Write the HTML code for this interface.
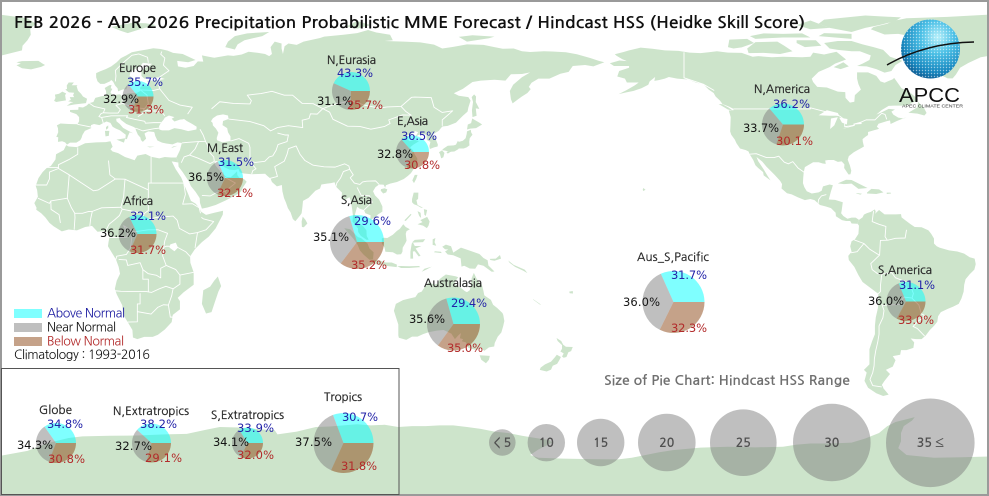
<!DOCTYPE html>
<html><head><meta charset="utf-8">
<style>html,body{margin:0;padding:0;background:#fff;}svg{display:block}</style>
</head><body>
<svg width="989" height="496" viewBox="0 0 989 496" xmlns="http://www.w3.org/2000/svg">
<defs>
<radialGradient id="sg" cx="0.62" cy="0.3" r="0.8">
<stop offset="0" stop-color="#b8f0fa"/><stop offset="0.35" stop-color="#4cc0e6"/><stop offset="0.75" stop-color="#1685bd"/><stop offset="1" stop-color="#0a4a80"/>
</radialGradient>
<pattern id="dots" width="3" height="3" patternUnits="userSpaceOnUse"><circle cx="1.5" cy="1.5" r="0.7" fill="#fff" opacity="0.55"/></pattern>
</defs>
<rect width="989" height="496" fill="#fff"/>
<g transform="translate(82.41,243.5) scale(2.747,-2.747)" fill="#cde4cb">
<polygon points="-5.9,35.8 -6.8,34.0 -9.6,32.5 -9.8,30.6 -11.5,28.2 -13.0,27.5 -14.5,26.0 -16.0,23.8 -17.0,21.0 -16.5,19.5 -16.2,17.0 -17.5,14.7 -16.7,13.0 -16.8,12.3 -15.0,11.0 -13.5,9.5 -12.0,7.5 -10.5,6.3 -7.5,4.4 -5.0,5.1 -2.0,4.8 1.0,6.0 3.5,6.4 5.5,4.3 7.0,4.4 8.5,4.6 9.7,3.5 9.8,2.0 9.5,0.5 9.3,-1.0 11.0,-3.8 12.2,-5.8 13.2,-8.5 13.7,-11.0 12.5,-13.5 11.8,-16.5 12.5,-18.5 14.5,-22.5 14.9,-26.0 16.5,-28.6 18.2,-31.5 18.4,-34.2 20.0,-34.8 22.5,-34.0 25.6,-34.0 27.5,-33.2 30.0,-31.3 32.5,-28.6 32.9,-26.0 35.5,-24.0 35.5,-21.0 34.7,-19.8 36.8,-17.8 40.5,-15.0 40.5,-10.5 39.3,-7.0 39.2,-4.7 41.0,-2.0 43.5,0.5 46.0,2.5 48.5,5.5 51.1,10.5 51.2,11.9 48.0,11.2 45.0,10.4 43.3,11.5 42.5,13.0 41.2,14.5 39.5,15.5 38.5,18.0 37.2,21.0 36.0,24.0 34.0,27.0 32.5,29.9 34.9,29.5 34.2,31.3 32.3,31.3 30.0,31.5 28.0,31.0 25.0,31.6 23.0,32.6 20.0,32.0 19.0,30.3 15.5,31.5 13.0,32.9 11.0,33.5 10.2,34.3 11.0,35.2 10.2,37.2 8.5,36.9 5.0,36.8 1.0,36.5 -2.0,35.1 -5.0,35.3"/>
<polygon points="49.3,-12.0 50.5,-15.5 49.5,-17.5 48.0,-22.0 47.0,-25.0 45.0,-25.5 43.5,-22.0 44.0,-17.0 46.5,-15.7 48.0,-13.5"/>
<polygon points="-5.6,36.0 -6.3,36.8 -7.4,37.2 -8.9,37.0 -8.8,38.7 -9.5,38.8 -8.8,40.5 -8.9,42.0 -9.3,43.0 -8.0,43.7 -5.0,43.5 -1.8,43.4 -1.2,44.5 -1.2,46.0 -2.2,47.1 -4.5,47.9 -4.5,48.6 -1.5,48.7 -1.4,49.7 0.2,49.5 1.5,50.2 2.5,51.1 4.0,51.5 4.7,53.0 7.0,53.6 8.7,53.9 8.6,55.5 8.1,56.6 9.8,57.6 10.6,57.7 10.3,56.5 10.9,56.3 10.2,55.0 11.0,54.0 13.5,54.3 14.5,53.9 16.5,54.6 18.5,54.8 19.9,54.9 21.1,55.5 21.0,56.8 22.0,57.6 24.0,57.2 24.3,58.3 23.5,59.2 28.0,59.5 30.0,59.9 28.0,60.5 25.0,60.2 22.5,60.0 21.5,61.0 21.5,62.5 22.0,63.4 24.5,64.8 25.4,65.4 22.0,65.8 21.0,64.5 19.0,63.5 17.5,62.5 17.2,61.0 18.8,60.0 18.5,59.2 16.5,57.5 16.0,56.2 14.5,56.0 13.0,55.4 12.8,56.5 11.9,57.5 11.2,58.9 10.5,59.5 10.0,59.0 8.0,58.1 6.5,58.1 5.5,59.0 5.0,60.5 5.0,62.0 6.5,62.7 8.5,63.5 10.5,64.5 12.5,66.0 14.0,67.5 16.0,68.5 18.0,69.6 20.5,70.1 23.5,70.6 25.8,71.1 28.5,70.8 31.0,70.2 33.0,69.4 36.5,69.0 41.2,66.8 38.5,66.0 34.5,66.5 34.8,64.5 37.5,64.0 40.5,64.6 42.0,66.3 44.0,66.2 43.5,68.5 46.0,68.0 48.0,67.6 53.0,68.5 55.0,68.3 58.0,68.8 60.5,69.8 64.0,69.4 66.5,69.0 68.0,68.2 69.0,69.0 68.5,71.5 70.0,73.5 72.5,72.8 72.5,71.0 73.0,69.0 73.6,71.8 75.0,72.8 78.0,72.3 80.5,73.5 86.5,74.8 88.0,75.3 95.0,76.0 100.0,76.6 104.0,77.7 107.0,76.8 112.0,76.0 113.0,74.0 110.0,73.7 117.0,73.5 123.0,73.2 128.0,72.4 131.0,71.0 135.0,71.6 140.0,72.5 146.0,72.3 150.0,71.5 153.0,70.9 157.0,71.0 160.0,70.0 163.0,69.7 168.0,70.0 171.0,69.9 176.0,69.6 180.0,68.9 185.0,67.5 188.0,66.5 190.0,66.0 186.0,64.5 183.0,65.0 178.5,64.6 177.0,62.5 174.0,61.8 170.0,60.0 166.0,60.0 163.5,58.5 162.5,57.0 163.2,56.2 162.0,54.8 160.0,53.5 158.6,52.5 156.6,51.0 156.0,52.5 155.6,55.5 156.8,57.8 160.0,60.5 163.0,62.3 160.0,61.7 156.0,61.6 154.0,59.3 150.0,59.6 145.0,59.3 142.0,58.8 138.5,56.3 135.2,54.7 137.0,53.8 140.5,53.3 141.3,52.0 140.5,49.5 140.2,48.0 138.5,46.5 136.0,44.0 133.0,42.8 131.0,42.6 129.7,41.0 128.0,40.0 127.5,39.5 128.5,38.3 129.4,36.0 129.3,35.3 128.0,35.0 126.5,34.4 126.3,35.5 126.7,37.0 125.4,37.7 125.2,39.5 124.3,39.9 122.3,39.5 121.2,38.8 121.8,39.8 122.2,40.5 121.2,40.9 119.5,39.8 118.0,39.2 117.7,38.5 118.8,37.5 119.2,37.2 120.8,37.8 122.5,37.2 120.5,36.0 119.3,35.0 120.3,34.0 120.9,32.6 121.9,31.0 121.9,29.9 121.5,28.5 120.5,27.0 119.6,25.6 118.5,24.6 117.0,23.5 114.5,22.4 112.0,21.8 110.5,21.2 110.2,20.3 109.7,21.4 108.0,21.5 106.7,20.5 105.8,19.0 106.5,17.5 108.0,16.0 109.2,13.5 109.2,11.6 107.5,10.5 106.7,9.6 104.8,8.6 104.9,10.3 103.0,11.0 102.5,12.2 100.9,12.7 100.0,13.4 99.2,10.5 99.9,9.2 100.4,7.2 101.5,6.8 102.3,6.2 103.4,4.8 103.5,2.7 104.2,1.4 103.5,1.3 101.3,2.8 100.4,4.2 100.3,5.5 98.3,8.0 98.5,10.0 98.2,12.5 97.7,15.5 97.2,16.9 95.4,15.8 94.3,16.3 94.5,18.5 93.2,19.8 92.3,20.7 91.8,22.3 90.5,22.0 89.0,21.8 87.0,21.5 86.5,20.0 84.8,19.2 82.3,16.6 80.3,15.5 80.1,13.4 79.8,11.0 79.3,10.3 78.2,8.9 77.5,8.1 76.6,8.9 75.8,11.3 74.8,12.9 74.1,14.9 73.4,16.5 72.8,19.0 72.6,21.3 70.8,20.8 69.0,22.4 68.5,23.6 67.3,24.6 66.5,25.4 64.0,25.3 61.6,25.2 58.8,25.5 57.3,25.9 56.8,27.1 55.5,26.7 53.5,26.9 51.5,27.9 50.1,29.9 48.8,30.0 48.0,29.9 48.4,28.5 49.6,27.0 50.2,26.3 50.8,24.8 51.2,26.1 51.6,25.0 52.5,24.2 54.0,24.1 55.5,25.5 56.3,26.3 56.4,24.9 57.2,23.9 58.8,23.5 59.8,22.5 58.5,20.5 57.8,19.0 56.6,18.0 55.2,17.3 52.2,15.7 48.5,14.0 45.5,13.1 43.5,12.7 42.8,14.8 42.7,16.5 41.2,18.8 39.5,20.9 38.8,22.5 37.5,24.5 36.5,26.0 35.0,28.0 34.9,29.5 34.2,31.3 34.9,32.7 35.5,34.0 35.9,35.5 36.2,36.6 34.6,36.8 32.8,36.1 30.5,36.4 29.0,36.7 27.3,37.5 26.5,39.2 26.3,40.1 26.1,40.6 24.0,40.8 23.0,40.3 22.6,40.0 23.2,38.2 22.0,37.0 21.3,37.7 21.1,38.6 20.2,39.6 19.4,41.4 19.4,42.0 18.5,42.5 16.0,43.5 14.0,45.0 13.6,45.7 12.3,45.4 12.4,44.5 13.6,43.5 14.8,42.1 16.2,41.3 18.5,40.1 17.2,40.5 16.6,39.2 16.2,38.0 15.6,38.0 15.8,39.6 14.8,40.3 13.7,41.2 12.2,41.8 11.0,42.5 10.2,43.9 8.8,44.4 7.5,43.8 6.2,43.1 4.2,43.5 3.1,43.1 3.2,42.0 0.9,41.0 0.0,39.5 -0.3,38.5 -0.8,37.6 -2.2,36.7 -4.5,36.7"/>
<polygon points="-5.7,50.1 -3.0,50.6 1.3,51.1 1.7,52.7 0.2,53.5 -0.5,54.5 -1.6,55.6 -2.1,57.2 -1.8,57.6 -3.9,57.6 -3.1,58.6 -5.0,58.6 -5.7,57.5 -5.6,56.3 -6.2,56.0 -4.9,55.0 -3.0,54.9 -3.4,54.0 -3.0,53.3 -4.6,53.3 -4.2,52.3 -5.2,51.8 -3.3,51.4 -4.2,51.2"/>
<polygon points="-6.0,52.1 -6.3,54.0 -5.9,54.6 -7.3,55.3 -8.5,54.5 -10.0,54.2 -9.8,53.0 -10.3,51.9 -9.5,51.5 -8.0,51.8"/>
<polygon points="-22.0,63.8 -24.0,64.9 -22.4,65.5 -24.0,66.0 -22.0,66.4 -16.0,66.5 -14.5,65.5 -13.6,65.0 -15.0,64.3 -18.7,63.4"/>
<polygon points="10.5,78.8 14.5,79.7 18,80.3 23,80.2 27,79.5 22,78.3 16.5,76.6 14.0,77.4"/>
<polygon points="52.0,71.5 53.0,73.5 55.5,75.5 60,76.5 68,77 65.5,75.5 59.0,74.0 56.5,72.5 55.5,70.6"/>
<polygon points="96,79 100,81 105,79.5 100,78.2"/>
<polygon points="137,75.2 142,75.8 150,75.3 148,74.7 140,73.5"/>
<polygon points="142.0,46.0 143.5,46.5 143.2,49.2 144.5,49.0 143.2,51.5 143.3,53.5 142.6,54.3 141.7,53.3 142.2,51.5 141.8,48.5"/>
<polygon points="130.9,34.0 132.0,33.8 134.0,33.4 135.4,33.5 136.8,34.3 137.0,34.6 138.8,34.6 139.9,35.0 140.9,35.7 140.8,37.0 141.0,38.3 141.5,39.0 142.0,39.6 141.5,40.5 141.4,41.4 140.0,40.8 139.9,39.9 139.5,38.3 138.5,37.4 137.0,37.0 136.7,37.4 136.0,36.0 135.2,35.7 133.0,35.6 131.5,34.6"/>
<polygon points="140.0,41.5 141.2,41.8 143.3,42.0 145.5,43.3 144.5,44.0 141.9,45.5 141.5,43.8 140.3,43.3"/>
<polygon points="129.8,33.2 130.9,33.9 131.8,33.0 131.4,31.4 130.6,31.0 130.2,32.5"/>
<polygon points="132.5,33.3 134.6,34.1 134.7,33.8 133.0,32.7"/>
<polygon points="120.1,23.0 120.7,22.0 121.5,23.5 122.0,25.0 121.0,25.0"/>
<polygon points="108.6,19.2 109.5,18.2 110.6,18.6 111.0,19.7 110.0,20.1 108.7,19.8"/>
<polygon points="120.0,16.2 120.6,18.5 122.3,18.5 122.2,16.2 121.6,15.8 122.0,14.0 124.0,13.0 123.3,13.0 121.8,13.9 120.7,14.3 120.0,15.0"/>
<polygon points="122.0,7.0 123.8,7.8 123.0,8.5 125.5,9.7 126.4,8.0 126.0,6.5 125.4,5.6 124.0,6.5"/>
<polygon points="124.3,12.5 125.5,12.2 125.0,10.0 124.5,10.5"/>
<polygon points="122.0,11.8 123.1,11.2 123.3,9.3 122.6,10.0"/>
<polygon points="117.2,8.4 119.5,10.8 119.8,10.5 117.7,8.2"/>
<polygon points="109.0,1.8 109.6,2.1 111.0,2.0 113.0,3.2 114.5,4.6 115.5,5.3 116.8,7.0 117.7,6.0 119.2,5.2 118.0,4.5 117.7,3.5 118.0,1.0 117.5,0.0 116.6,-1.5 116.5,-3.0 116.0,-3.9 114.5,-4.0 113.0,-3.2 110.3,-3.0 110.0,-1.5 109.0,0.0"/>
<polygon points="95.3,5.6 97.5,5.2 100.3,2.3 101.4,2.0 103.8,0.0 104.5,-1.8 106.0,-3.2 105.8,-5.8 104.5,-5.9 102.3,-4.0 101.0,-2.5 100.2,-0.5 98.6,1.8 97.2,3.3"/>
<polygon points="105.2,-6.8 106.0,-5.9 108.3,-6.2 110.4,-6.9 112.6,-6.9 114.5,-7.7 114.4,-8.6 111.0,-8.2 108.0,-7.8 106.5,-7.4"/>
<polygon points="114.6,-8.3 116,-8.2 119,-8.3 122.5,-8.2 123.0,-8.6 119,-8.9 116,-8.9"/>
<polygon points="123.5,-10.3 124.5,-9.2 127.2,-8.4 125,-9.6"/>
<polygon points="119.4,-5.5 120.4,-5.5 120.3,-2.9 121.0,-2.8 122.4,-4.7 123.1,-4.5 121.3,-1.8 123.4,-0.9 121.0,-0.9 120.2,0.6 121.0,1.3 124.8,1.6 124.0,0.5 120.0,0.3 119.8,-0.5 119.4,-3.0"/>
<polygon points="128,-3.2 130.8,-3.5 130.5,-3.0 128.3,-2.8"/>
<polygon points="127.5,1.5 128.5,2.0 128.2,0.5 128.8,-0.8 127.5,-0.5"/>
<polygon points="131.0,-1.2 132.3,-0.4 134.2,-1.0 135.0,-3.3 137.8,-1.5 141.0,-2.6 144.5,-3.8 146.0,-5.3 147.5,-6.1 147.8,-8.0 150.0,-10.2 149.0,-10.3 146.0,-8.1 144.0,-7.6 143.0,-9.2 141.0,-9.1 139.0,-8.1 138.0,-8.4 137.7,-5.4 135.0,-4.3 133.0,-4.0 132.0,-2.9 133.2,-2.2 132.0,-2.1"/>
<polygon points="148.3,-5.6 150.5,-5.5 152.0,-4.2 152.4,-5.5 150.0,-6.3 148.5,-6.0"/>
<polygon points="155,-6.2 157,-7.8 161,-9.5 162,-10.8 160.5,-9.9 157.5,-8.5 155.5,-7"/>
<polygon points="79.9,6.0 80.6,5.9 81.9,7.3 81.2,8.6 80.2,9.8 79.8,8.0"/>
<polygon points="12.4,37.8 15.6,38.3 15.1,36.7"/>
<polygon points="8.4,39.0 9.6,39.2 9.8,41.0 8.2,41.0"/>
<polygon points="8.6,41.4 9.4,42.0 9.4,43.0 8.6,42.4"/>
<polygon points="23.5,35.3 26.3,35.2 24.5,35.0"/>
<polygon points="32.3,34.7 34.6,35.6 33.0,35.3"/>
<polygon points="114.1,-22.0 113.4,-24.5 114.0,-26.4 115.0,-29.5 115.0,-33.5 115.2,-34.3 117.9,-35.1 120.0,-33.9 122.0,-33.9 124.0,-33.0 126.0,-32.3 129.0,-31.7 131.5,-31.5 134.3,-32.8 135.6,-34.8 136.8,-33.5 137.8,-32.6 137.4,-34.5 138.6,-34.8 138.1,-35.6 139.6,-36.0 140.5,-38.0 143.5,-38.8 144.9,-37.9 146.3,-39.1 148.0,-37.8 149.9,-37.5 150.1,-36.2 151.2,-33.9 152.5,-32.4 153.2,-30.0 153.6,-28.2 153.2,-26.0 152.9,-25.3 151.0,-23.5 149.5,-22.3 148.7,-20.5 146.3,-18.9 146.0,-17.3 145.4,-15.0 144.5,-14.2 143.5,-12.8 142.5,-10.7 141.7,-12.6 141.5,-15.0 141.0,-17.0 140.0,-17.7 139.3,-17.4 137.9,-16.3 135.8,-15.0 135.5,-14.0 136.8,-12.3 135.8,-11.9 133.0,-11.4 132.3,-11.3 131.0,-12.2 130.0,-13.0 129.4,-14.5 128.0,-15.0 126.2,-14.0 124.3,-16.3 123.5,-17.5 122.2,-18.0 121.2,-19.5 119.0,-20.0 116.7,-20.6"/>
<polygon points="144.6,-40.7 148.3,-40.9 148.0,-42.3 146.9,-43.6 145.2,-42.3"/>
<polygon points="172.6,-34.4 174.3,-35.5 175.0,-36.8 176.0,-37.6 178.5,-37.7 177.9,-39.2 176.9,-39.6 176.2,-41.3 175.2,-41.6 174.6,-41.2 175.2,-40.0 174.0,-39.3 174.6,-38.3 174.6,-37.0 173.0,-35.5"/>
<polygon points="172.7,-40.5 174.2,-41.3 173.5,-42.7 172.8,-43.8 171.2,-44.5 170.6,-45.9 169.0,-46.6 166.5,-46.0 166.8,-45.2 168.4,-44.0 170.6,-43.0 172.0,-41.4"/>
<polygon points="164.0,-20.2 167.0,-22.3 166.5,-22.2 164.2,-20.5"/>
<polygon points="177.2,-17.5 178.5,-17.3 178.6,-18.2 177.4,-18.1"/>
<polygon points="-31,-77.5 -20,-75.5 -12,-72.5 -5,-70.8 0,-70.2 10,-70.0 20,-69.9 30,-69.5 38,-69.3 45,-67.8 50,-66.8 57,-67.0 63,-67.5 70,-68.0 71,-69.5 78,-68.5 85,-66.8 90,-66.6 95,-66.2 100,-65.8 105,-66.2 110,-66.0 115,-66.8 120,-66.5 125,-66.5 130,-66.2 135,-66.2 140,-66.8 145,-67.5 150,-68.5 155,-69.0 160,-70.0 165,-70.8 170,-71.6 171,-72.5 169,-73.5 166,-75.0 163,-77.0 166,-78.0 175,-78.3 185,-78.5 195,-78.6 200,-78.0 205,-77.0 210,-76.0 215,-75.2 225,-74.3 235,-74.0 245,-74.2 255,-74.0 260,-73.2 265,-72.8 272,-72.8 280,-72.5 285,-71.0 290,-69.0 293,-66.5 296,-65.0 300,-64.0 303,-63.2 302,-64.5 299,-66.5 298,-69.0 298,-72.0 297,-74.5 300,-77.0 310,-78.0 320,-77.8 331,-77.5 331,-95 -31,-95"/>
<polygon points="-73.0,78.0 -68.0,76.1 -63.0,76.3 -58.5,75.5 -56.0,73.8 -55.0,71.0 -53.5,69.0 -51.0,66.3 -50.5,64.5 -48.5,61.8 -45.0,60.1 -43.2,60.1 -42.0,61.5 -40.5,64.0 -37.5,65.7 -33.0,67.8 -30.0,68.3 -26.0,69.3 -22.0,70.3 -21.8,72.0 -20.0,74.0 -18.8,76.0 -19.0,78.0 -17.0,80.0 -20.0,82.0 -30.0,83.3 -45.0,82.5 -60.0,82.0 -65.0,81.0 -67.0,80.0 -72.0,78.8"/>
<g transform="translate(360,0)">
<polygon points="-73.0,78.0 -68.0,76.1 -63.0,76.3 -58.5,75.5 -56.0,73.8 -55.0,71.0 -53.5,69.0 -51.0,66.3 -50.5,64.5 -48.5,61.8 -45.0,60.1 -43.2,60.1 -42.0,61.5 -40.5,64.0 -37.5,65.7 -33.0,67.8 -30.0,68.3 -26.0,69.3 -22.0,70.3 -21.8,72.0 -20.0,74.0 -18.8,76.0 -19.0,78.0 -17.0,80.0 -20.0,82.0 -30.0,83.3 -45.0,82.5 -60.0,82.0 -65.0,81.0 -67.0,80.0 -72.0,78.8"/>
<polygon points="-168.0,65.6 -164.5,66.6 -161.8,66.4 -163.5,67.1 -165.5,68.3 -166.2,68.9 -163.0,69.7 -161.0,70.3 -156.8,71.3 -152.5,70.9 -148.0,70.3 -143.0,70.1 -139.0,69.5 -135.0,69.3 -132.0,69.6 -129.0,70.0 -125.0,69.5 -120.0,69.4 -116.0,68.0 -114.0,68.2 -109.0,67.8 -105.0,68.0 -98.0,67.8 -95.0,68.0 -94.0,69.5 -90.0,68.8 -85.5,69.8 -82.0,67.0 -86.0,65.5 -88.0,64.2 -92.0,62.5 -94.5,60.0 -94.0,58.8 -92.5,57.0 -89.0,56.8 -85.0,55.3 -82.3,55.1 -82.2,53.0 -80.6,51.3 -79.0,51.6 -78.8,54.0 -76.6,56.0 -77.5,58.0 -78.0,60.0 -78.0,62.3 -74.0,62.3 -71.0,61.0 -69.5,59.0 -68.0,58.5 -65.0,59.8 -64.5,60.3 -61.8,56.5 -59.0,55.2 -57.0,53.5 -55.7,52.2 -57.5,51.4 -60.0,50.2 -64.5,50.2 -66.5,50.1 -69.0,48.6 -71.0,46.9 -69.0,47.8 -66.5,49.0 -64.2,48.8 -65.5,48.0 -64.8,46.9 -63.0,45.8 -61.0,45.5 -60.0,46.0 -63.5,44.6 -65.8,43.5 -66.0,44.8 -67.0,44.6 -70.2,43.6 -70.8,42.5 -70.0,41.8 -70.5,41.6 -72.0,41.2 -74.0,40.6 -74.0,39.5 -75.0,38.8 -76.0,38.0 -75.9,37.0 -75.5,35.3 -76.5,34.7 -78.0,33.9 -79.2,33.2 -81.0,31.8 -81.4,30.5 -80.6,28.4 -80.1,26.5 -80.4,25.2 -81.1,25.1 -81.7,26.0 -82.7,27.5 -82.6,28.8 -83.6,29.9 -85.0,29.7 -86.5,30.4 -88.5,30.4 -89.6,30.2 -89.4,29.0 -90.5,29.1 -92.0,29.6 -94.0,29.6 -95.3,28.8 -97.0,27.8 -97.4,26.0 -97.6,24.0 -97.7,22.0 -97.2,20.5 -96.3,19.0 -94.5,18.2 -92.0,18.6 -90.9,19.2 -90.4,20.8 -88.0,21.5 -86.8,21.2 -87.5,19.0 -88.3,16.0 -86.0,15.9 -83.2,15.0 -83.6,12.0 -83.8,11.0 -83.0,10.0 -81.5,9.0 -80.0,9.4 -78.5,9.4 -77.3,8.6 -77.9,7.3 -78.0,7.2 -80.0,7.3 -80.5,8.2 -82.0,8.2 -83.5,8.5 -85.7,9.9 -85.8,11.2 -87.5,12.9 -89.5,13.5 -91.5,14.0 -93.5,15.8 -95.0,16.2 -97.0,15.8 -99.5,16.8 -101.8,17.9 -103.5,18.3 -105.5,20.0 -105.3,21.6 -106.0,22.8 -108.0,25.0 -109.5,26.5 -111.0,28.0 -112.5,29.8 -114.6,31.5 -114.0,30.0 -113.0,28.5 -112.0,27.0 -110.5,24.5 -109.5,23.0 -110.2,23.5 -112.0,24.8 -112.2,26.0 -114.0,27.5 -115.0,28.5 -115.8,30.4 -117.1,32.5 -117.5,33.5 -118.5,34.0 -120.6,34.6 -121.9,36.5 -122.5,37.8 -123.8,39.6 -124.2,40.8 -124.1,43.0 -124.0,46.0 -124.7,48.4 -123.0,48.5 -123.0,49.0 -124.5,49.8 -127.0,50.8 -127.9,52.0 -129.5,53.5 -130.2,54.8 -132.0,56.0 -134.0,58.0 -136.5,58.5 -139.5,59.7 -143.5,60.0 -146.5,60.6 -148.0,60.0 -150.0,59.5 -151.8,59.2 -151.5,60.6 -153.5,59.0 -154.0,57.8 -156.5,56.5 -159.5,55.5 -162.0,55.0 -164.8,54.4 -162.0,55.8 -159.0,57.5 -157.5,58.6 -161.8,58.6 -162.5,60.0 -165.3,60.8 -164.6,62.8 -161.0,64.0 -161.0,64.6 -166.5,64.6"/>
<polygon points="-77.3,8.6 -76.0,9.5 -75.5,10.5 -74.5,11.0 -73.0,11.5 -71.5,12.4 -71.2,11.5 -71.5,10.8 -70.0,12.2 -68.0,10.6 -66.0,10.6 -64.0,10.6 -62.0,10.7 -61.8,9.5 -60.5,8.5 -58.5,7.0 -57.0,6.0 -54.5,5.9 -52.0,4.8 -51.0,3.5 -50.0,1.8 -50.0,0.0 -49.0,-1.0 -48.0,-1.5 -44.5,-2.5 -41.5,-2.9 -39.0,-3.7 -37.0,-5.0 -35.2,-5.5 -34.8,-7.5 -35.3,-9.5 -37.0,-11.2 -38.5,-13.0 -39.0,-15.0 -39.2,-17.5 -40.0,-20.0 -41.0,-22.0 -43.0,-23.0 -45.0,-23.8 -47.5,-25.0 -48.5,-26.5 -48.8,-28.5 -50.0,-30.0 -51.5,-31.5 -53.0,-33.5 -54.5,-34.8 -56.5,-34.8 -58.5,-34.6 -57.2,-36.0 -57.5,-38.0 -60.0,-38.8 -62.0,-38.8 -62.3,-40.5 -65.0,-41.0 -64.0,-42.5 -65.0,-44.8 -67.5,-46.0 -66.0,-47.5 -68.0,-50.0 -69.0,-51.5 -68.5,-52.3 -68.5,-52.6 -66.5,-55.0 -68.5,-55.5 -71.0,-54.5 -74.0,-52.5 -75.3,-50.0 -74.5,-47.0 -75.5,-46.0 -73.5,-44.0 -73.5,-41.5 -73.5,-38.5 -72.5,-35.5 -71.5,-33.0 -71.5,-30.0 -71.2,-27.0 -70.4,-23.5 -70.2,-20.0 -70.3,-18.3 -72.0,-17.0 -76.0,-14.0 -77.5,-11.5 -79.0,-8.5 -81.0,-6.0 -81.2,-4.5 -80.0,-3.0 -80.5,-1.0 -80.0,0.8 -78.8,1.5 -77.5,3.5 -77.3,6.5 -77.9,7.3"/>
<polygon points="-61.5,66.5 -64.0,65.0 -65.5,62.8 -68.0,62.2 -71.0,63.5 -74.5,64.5 -78.0,64.6 -76.0,65.5 -73.5,66.8 -73.0,68.5 -77.0,70.0 -80.0,70.0 -85.0,70.5 -88.0,71.0 -90.0,73.0 -85.0,73.7 -80.0,73.7 -76.0,72.5 -72.0,71.5 -68.5,70.5 -66.0,68.0"/>
<polygon points="-86.5,64.2 -83.0,66.0 -81.0,64.5 -84.0,63.5"/>
<polygon points="-118.0,71.0 -115.0,73.3 -107.0,73.5 -104.5,72.0 -101.5,70.0 -106.0,69.0 -112.0,69.4 -117.5,69.3"/>
<polygon points="-125.0,71.5 -124.5,74.2 -118.0,74.5 -115.5,73.0 -120.0,71.4 -123.0,71.0"/>
<polygon points="-117.0,75.5 -112,76.5 -105.0,76.3 -98.0,76.5 -95.0,75.0 -105.0,75.0 -115.0,74.5"/>
<polygon points="-100.0,74.0 -93.0,74.0 -91.0,72.0 -97.0,71.5 -100.0,73.0"/>
<polygon points="-80.0,76.3 -90.0,76.6 -92.0,75.5 -80.0,74.5"/>
<polygon points="-62.0,82.3 -75.0,83.0 -90.0,81.5 -92.0,80.0 -88.0,78.5 -80.0,77.0 -75.0,78.5 -70,79.5 -64,81"/>
<polygon points="-88,78.5 -95,81.2 -100,79.5 -95,78"/>
<polygon points="-59.3,47.6 -56.0,49.6 -55.8,51.6 -53.6,49.3 -52.7,47.5 -53.5,46.6 -56.0,47.3"/>
<polygon points="-85.0,21.9 -82.0,23.2 -80.0,23.1 -77.0,21.6 -74.2,20.2 -77.5,19.9 -80.0,21.8 -82.8,21.6"/>
<polygon points="-74.4,18.5 -72.8,19.9 -70.0,19.7 -68.4,18.6 -71.0,18.0 -74.4,18.2"/>
<polygon points="-78.3,18.4 -76.2,18.1 -76.8,17.8 -78.2,18.2"/>
<polygon points="-67.2,18.0 -65.6,18.2 -65.8,18.5 -67.2,18.5"/>
<polygon points="-123.3,48.4 -125.0,48.8 -128.4,50.8 -127.0,50.7 -124.8,49.5"/>
<polygon points="-155.9,19.1 -155.0,19.5 -155.8,20.2 -156.0,19.7"/>
</g>
<g fill="#fff">
<polygon points="28.0,41.5 29.0,41.2 31.5,41.2 33.5,42.0 36.0,41.6 38.5,40.9 41.5,41.5 41.6,42.5 40.0,43.5 38.0,44.6 37.0,45.3 36.5,45.2 35.5,45.1 33.5,44.4 32.5,45.4 33.5,46.0 31.5,46.6 30.0,45.8 29.5,45.0 28.6,44.0 27.9,42.7"/>
<polygon points="46.8,44.5 47.5,45.6 49.0,46.6 51.2,47.0 53.0,46.6 53.2,45.3 51.2,44.6 51.0,43.1 52.7,42.0 53.0,40.5 53.9,39.0 53.9,37.3 51.0,36.8 49.0,37.6 48.9,38.4 49.5,40.3 48.6,41.8 47.5,43.0 47.4,43.9"/>
<polygon points="32,-0.3 34,0.3 34.8,-1.5 33.5,-2.8 31.7,-1.5"/>
<g transform="translate(360,0)">
<polygon points="-92,46.7 -89,48.5 -85,47.5 -84.5,46.5 -88,46.5"/>
<polygon points="-87.8,41.7 -87.5,45.5 -85,46 -86.3,43"/>
<polygon points="-84.5,45.8 -81.5,45.3 -81.7,43.3 -83.5,44"/>
<polygon points="-83.4,41.7 -79,42.8 -79.5,43 -82.5,42"/>
<polygon points="-79.7,43.3 -76.3,43.5 -76.5,44.2 -79.3,43.6"/>
</g>
</g>
<!-- country borders -->
<g fill="none" stroke="#ffffff" stroke-width="0.9" vector-effect="non-scaling-stroke" stroke-linejoin="round">
<polyline vector-effect="non-scaling-stroke" points="-1.8,43.4 3.2,42.4"/>
<polyline vector-effect="non-scaling-stroke" points="2.5,51.1 4.2,49.9 6,49.5 8.2,49 7.6,47.6 6.8,47.3 6,46.2 7,45.9 7.6,43.8"/>
<polyline vector-effect="non-scaling-stroke" points="7,45.9 10.5,46.5 13.7,46.5 16.5,46.5 16,45.9 19,45.2 22.7,44.5 22.9,43.8 26,44 28.6,44"/>
<polyline vector-effect="non-scaling-stroke" points="14.2,54 14.6,51 12.2,50.3 13.8,48.7 13,47.5 10,47.5 7.6,47.6"/>
<polyline vector-effect="non-scaling-stroke" points="14.6,51 18.8,49.5 22.6,49.1 24,50.9 23.5,54 21.1,55.9 26,55.7 28,56.2"/>
<polyline vector-effect="non-scaling-stroke" points="22.6,49.1 22.1,48.4 26.6,48.2 29,47.7 30,46.5"/>
<polyline vector-effect="non-scaling-stroke" points="20.2,46.2 22.9,47.9"/>
<polyline vector-effect="non-scaling-stroke" points="19.4,42 22,41 26.1,41.8 28,42"/>
<polyline vector-effect="non-scaling-stroke" points="28,60.5 31.5,62.9 29.5,64.9 30,67.5 28.5,68.9 28.9,69.9"/>
<polyline vector-effect="non-scaling-stroke" points="12,59 12.2,61 12,63 14.5,65.5 18,68.5 20.5,69 23.7,67.8 24,65.8"/>
<polyline vector-effect="non-scaling-stroke" points="28.2,59.4 27.7,57.8 28.2,56.2 31.5,52.1 35.5,50.4 40,49.6 38.3,47.1"/>
<polyline vector-effect="non-scaling-stroke" points="47,49 50,51.6 55,51 61,50.8 61.5,52 60,54 65,54.6 69,55.4 73.5,54 76.5,54 80,51 84,50.9 87.5,49.1 92,50.7 98,52 99,51.6 103,50.3 108,49.3 111,49.7 116,49.9 119.8,53.2 121,53.3 127,53.1 128,49.6 131,47.7 134.8,48.3 131,45 131,42.8"/>
<polyline vector-effect="non-scaling-stroke" points="87.5,49.1 90,47.8 91.2,45.2 96.5,42.7 101,42.6 105,41.6 110,42.6 112,43.7 111.5,45 116.5,46.8 119.7,46.7 117.8,48 116,49.9"/>
<polyline vector-effect="non-scaling-stroke" points="87.5,49.1 85.5,47.1 83,47.2 82.5,45.5 80,44.9 80.2,42.2 75,42.9 71,42.2 68.5,41 66,42.9 61,44.4 56,45 53.2,45.3"/>
<polyline vector-effect="non-scaling-stroke" points="53.9,37.3 57,38.2 60.5,36.5 61,35 61,31.5 60.9,29.9 63,29.5 66.4,29.9 68,31.5 69.3,31.9 70.5,33.9 71.2,36 74.5,37.1 75,39.5 73.7,39.5 71,40.2"/>
<polyline vector-effect="non-scaling-stroke" points="61.6,25.2 62,26.5 63.2,27.2 60.9,29.9"/>
<polyline vector-effect="non-scaling-stroke" points="68.2,23.7 71,24.4 70,28 73.5,30 74.5,32.5 75,34.5 77.8,35.5 79.2,32.5 81,30.2 84,28.5 88,27.9 92,27.8 95.5,29 97,28.2 97.3,27 95,26.2 94,23.9 92.6,22 92.3,20.7"/>
<polyline vector-effect="non-scaling-stroke" points="97.3,27 98.6,25 97.5,23.9 99,22 101,21.5 102,22.4 103.5,22.7 106.7,22.8 108,21.5"/>
<polyline vector-effect="non-scaling-stroke" points="100,20.4 101.5,17.5 104.5,17.4 105.5,15 102.5,12.2"/>
<polyline vector-effect="non-scaling-stroke" points="36.2,36.6 38,36.8 42.3,37.1 44.8,37.2 44,39.4 42.8,41.6"/>
<polyline vector-effect="non-scaling-stroke" points="42.3,37.1 41,34.4 39,32.2 42,31.1 46.5,29.1 48,29.9"/>
<polyline vector-effect="non-scaling-stroke" points="44.8,37.2 45.5,35.9 46,33.5 47.8,31.5 48,30"/>
<polyline vector-effect="non-scaling-stroke" points="39,32.2 37,31.5 36,29.4"/>
<polyline vector-effect="non-scaling-stroke" points="52,19 55.7,22 51.5,24.3"/>
<polyline vector-effect="non-scaling-stroke" points="43.5,17.5 46.5,17.3 49,18.6 52,19 53.1,16.6"/>
<polyline vector-effect="non-scaling-stroke" points="-1.7,35 -1.7,32.5 -5,30.5 -8.7,28.7 -8.7,27.3 -4.8,25 4,19.2 5.8,19.5 12,23.5 15.5,23.4 24,19.5 24,22 25,22 36.9,22"/>
<polyline vector-effect="non-scaling-stroke" points="9.5,30.2 10,25 12,23.5"/>
<polyline vector-effect="non-scaling-stroke" points="25,31.6 25,22"/>
<polyline vector-effect="non-scaling-stroke" points="-13.2,27.7 -8.7,27.7"/>
<polyline vector-effect="non-scaling-stroke" points="-17,21.3 -13,21.3 -12,23.5 -12,26 -8.7,27.3"/>
<polyline vector-effect="non-scaling-stroke" points="-4.8,25 -5.5,16.5 -11.5,15.5 -12,14.6 -16.2,16.5"/>
<polyline vector-effect="non-scaling-stroke" points="-11.5,15.5 -11.4,12.4 -8.5,10.5 -8,7.5"/>
<polyline vector-effect="non-scaling-stroke" points="-5.5,16.5 -4,13 -2.8,11 0,11 2,11.6 3.6,11.7 3,9 2.7,6.3"/>
<polyline vector-effect="non-scaling-stroke" points="-3,5 -2.7,9.5 -2.8,11"/>
<polyline vector-effect="non-scaling-stroke" points="3.6,11.7 7,13 14,13.2 15,17 15.5,23.4"/>
<polyline vector-effect="non-scaling-stroke" points="14,13.2 14.5,12.5 13.5,10.2 11.8,8.7 9.7,7 8.5,4.6"/>
<polyline vector-effect="non-scaling-stroke" points="24,19.5 24,12 22.5,10.9 22,9.5 23.5,8.7 27,9.5 33,10 34.5,8.5"/>
<polyline vector-effect="non-scaling-stroke" points="14.5,12.5 22.5,10.9"/>
<polyline vector-effect="non-scaling-stroke" points="36.9,22 37.5,17.9 36.5,14.3 40,14.5 42.5,13 43,11"/>
<polyline vector-effect="non-scaling-stroke" points="34.5,8.5 35.3,5.5 39,3.5 41.9,4 45,5 47.8,8 44,9 43.3,9.5"/>
<polyline vector-effect="non-scaling-stroke" points="41.9,4 41,-1.6"/>
<polyline vector-effect="non-scaling-stroke" points="29.6,-1.4 30.5,-1 33.9,-1 37.6,-3 39.2,-4.7"/>
<polyline vector-effect="non-scaling-stroke" points="9.8,2.2 16,2.2 16.5,3.5 15,6.5 18.6,4.2"/>
<polyline vector-effect="non-scaling-stroke" points="12.2,-5.8 12.5,-4.6 16,-4 17.5,-1.7 18,2.5 18.6,4.2 24,5 27.5,5 31,3.7 30,1 29.6,-1.4 29.2,-4.5 30.5,-8 28.5,-9 28.5,-12.5 27,-11.6 24,-11 22,-9.5 21,-7 16.5,-8 16,-6 13.2,-5.8"/>
<polyline vector-effect="non-scaling-stroke" points="30.5,-8 34,-9.5 35.5,-11.5 40.5,-10.5"/>
<polyline vector-effect="non-scaling-stroke" points="11.8,-17.2 14,-17.4 18.5,-17.5 23.3,-17.5 25.2,-17.8 28,-16.5 30.4,-15.6 33,-16.5 35.5,-14.8 35.5,-11.5"/>
<polyline vector-effect="non-scaling-stroke" points="22,-9.5 22,-13 24,-13 24,-17.5"/>
<polyline vector-effect="non-scaling-stroke" points="16.5,-28.6 20,-28.5 20,-24.8 20,-22 21,-22 21,-18.1"/>
<polyline vector-effect="non-scaling-stroke" points="20,-24.8 25,-25.7 27.5,-23.2 29.5,-22.3 31.3,-22.4 32,-26.8 32.9,-26.8"/>
<polyline vector-effect="non-scaling-stroke" points="31.3,-22.4 32.5,-19 33,-16.5"/>
<g transform="translate(360,0)">
<polyline vector-effect="non-scaling-stroke" points="-123,49 -95,49 -95,49.4 -89.5,48 -84.5,46.5 -82.5,45 -82.5,42.5 -79,43 -79,43.5 -76.5,44.2 -74.7,45 -71.5,45 -70,46.5 -69,47.4 -67.8,47 -67.2,45.2"/>
<polyline vector-effect="non-scaling-stroke" points="-141,69.6 -141,60.3 -137,59 -134,58 -130,55.7"/>
<polyline vector-effect="non-scaling-stroke" points="-117.1,32.5 -114.7,32.7 -111,31.3 -108.2,31.3 -106.5,31.8 -104.5,29.6 -103,29 -101.4,29.8 -99.5,27.5 -97.2,25.9"/>
<polyline vector-effect="non-scaling-stroke" points="-92.2,14.5 -92,16 -91,17.3 -89.2,17.8"/>
<polyline vector-effect="non-scaling-stroke" points="-60,5 -60.5,2 -64,1.9 -66.8,1.2 -69.5,1.1 -69.8,-4.2 -73,-7.3 -72.5,-9.5 -70.5,-11 -68.7,-11.1 -65.4,-10.6 -64,-12.5 -60.5,-13.8 -60.1,-16.3 -58.2,-16.3 -57.5,-18.2 -58,-19.9 -55.5,-22.4 -54.6,-25.6 -53.6,-26.1 -53.8,-27.2 -55.5,-28 -57.6,-30.2 -56,-31 -53.4,-33.7"/>
<polyline vector-effect="non-scaling-stroke" points="-69,-22 -68.2,-24.4 -68.6,-27 -70,-30 -70,-33 -70.5,-36 -71.2,-39 -71.7,-42 -71.8,-44.5 -72.3,-47 -73.3,-49.5 -72.3,-51.7 -69,-52.2"/>
<polyline vector-effect="non-scaling-stroke" points="-69,-11 -69.5,-15.5 -69.5,-17.5 -70.3,-18.3"/>
<polyline vector-effect="non-scaling-stroke" points="-68.5,-22.5 -62.6,-22.2 -61,-19.5 -58.2,-19.8"/>
<polyline vector-effect="non-scaling-stroke" points="-72,11.8 -72.5,8 -70,7 -67.5,6.2 -67.8,2.5 -67,1.2"/>
<polyline vector-effect="non-scaling-stroke" points="-79,1.3 -75.5,0 -73.5,-2 -70,-4.2"/>
<polyline vector-effect="non-scaling-stroke" points="-80.3,-3.4 -78,-3 -75.5,0"/>
</g>
</g>
</g>

<rect x="1" y="1" width="987" height="494" fill="none" stroke="#9a9a9a" stroke-width="2"/>

<text x="14" y="28" font-family="NanumGothic, 'Liberation Sans', sans-serif" font-weight="bold" font-size="16" fill="#111" textLength="791" lengthAdjust="spacingAndGlyphs">FEB 2026 - APR 2026 Precipitation Probabilistic MME Forecast / Hindcast HSS (Heidke Skill Score)</text>

<circle cx="930.5" cy="49" r="29.5" fill="url(#sg)"/>
<circle cx="930.5" cy="49" r="29.5" fill="url(#dots)"/>
<path d="M887,65 Q925,43 974,42" fill="none" stroke="#111" stroke-width="1.4"/>
<text x="899" y="102" font-family="'Liberation Sans', sans-serif" font-size="20" fill="#111" textLength="61" lengthAdjust="spacingAndGlyphs">APCC</text>
<text x="902" y="107.5" font-family="'Liberation Sans', sans-serif" font-size="4.5" fill="#333" textLength="61" lengthAdjust="spacingAndGlyphs">APEC CLIMATE CENTER</text>

<g fill-opacity="0.5">
<path d="M138,96.5 L153.5,96.5 A15.5,15.5 0 0 0 128.35,84.37 Z" fill="#00ffff"/>
<path d="M138,96.5 L128.35,84.37 A15.5,15.5 0 0 0 131.93,110.76 Z" fill="#808080"/>
<path d="M138,96.5 L131.93,110.76 A15.5,15.5 0 0 0 153.5,96.5 Z" fill="#8b4513"/>
<path d="M351,91 L370,91 A19,19 0 0 0 333.66,83.24 Z" fill="#00ffff"/>
<path d="M351,91 L333.66,83.24 A19,19 0 0 0 350.28,109.99 Z" fill="#808080"/>
<path d="M351,91 L350.28,109.99 A19,19 0 0 0 370,91 Z" fill="#8b4513"/>
<path d="M412.5,152 L429,152 A16.5,16.5 0 0 0 401.59,139.62 Z" fill="#00ffff"/>
<path d="M412.5,152 L401.59,139.62 A16.5,16.5 0 0 0 406.72,167.45 Z" fill="#808080"/>
<path d="M412.5,152 L406.72,167.45 A16.5,16.5 0 0 0 429,152 Z" fill="#8b4513"/>
<path d="M225,178 L243,178 A18,18 0 0 0 217.85,161.48 Z" fill="#00ffff"/>
<path d="M225,178 L217.85,161.48 A18,18 0 0 0 217.34,194.29 Z" fill="#808080"/>
<path d="M225,178 L217.34,194.29 A18,18 0 0 0 243,178 Z" fill="#8b4513"/>
<path d="M137.5,234 L156.5,234 A19,19 0 0 0 129.3,216.86 Z" fill="#00ffff"/>
<path d="M137.5,234 L129.3,216.86 A19,19 0 0 0 129.74,251.34 Z" fill="#808080"/>
<path d="M137.5,234 L129.74,251.34 A19,19 0 0 0 156.5,234 Z" fill="#8b4513"/>
<path d="M357,242 L384,242 A27,27 0 0 0 349.3,216.12 Z" fill="#00ffff"/>
<path d="M357,242 L349.3,216.12 A27,27 0 0 0 340.72,263.54 Z" fill="#808080"/>
<path d="M357,242 L340.72,263.54 A27,27 0 0 0 384,242 Z" fill="#8b4513"/>
<path d="M453.5,324 L480,324 A26.5,26.5 0 0 0 446.27,298.51 Z" fill="#00ffff"/>
<path d="M453.5,324 L446.27,298.51 A26.5,26.5 0 0 0 437.92,345.44 Z" fill="#808080"/>
<path d="M453.5,324 L437.92,345.44 A26.5,26.5 0 0 0 480,324 Z" fill="#8b4513"/>
<path d="M673.5,302 L704.5,302 A31,31 0 0 0 660.83,273.71 Z" fill="#00ffff"/>
<path d="M673.5,302 L660.83,273.71 A31,31 0 0 0 659.77,329.79 Z" fill="#808080"/>
<path d="M673.5,302 L659.77,329.79 A31,31 0 0 0 704.5,302 Z" fill="#8b4513"/>
<path d="M906,301.5 L925.5,301.5 A19.5,19.5 0 0 0 898.71,283.41 Z" fill="#00ffff"/>
<path d="M906,301.5 L898.71,283.41 A19.5,19.5 0 0 0 896.71,318.65 Z" fill="#808080"/>
<path d="M906,301.5 L896.71,318.65 A19.5,19.5 0 0 0 925.5,301.5 Z" fill="#8b4513"/>
<path d="M783,124.5 L804,124.5 A21,21 0 0 0 769.42,108.48 Z" fill="#00ffff"/>
<path d="M783,124.5 L769.42,108.48 A21,21 0 0 0 776.38,144.43 Z" fill="#808080"/>
<path d="M783,124.5 L776.38,144.43 A21,21 0 0 0 804,124.5 Z" fill="#8b4513"/>
<path d="M56,443 L76,443 A20,20 0 0 0 44.45,426.67 Z" fill="#00ffff"/>
<path d="M56,443 L44.45,426.67 A20,20 0 0 0 48.76,461.64 Z" fill="#808080"/>
<path d="M56,443 L48.76,461.64 A20,20 0 0 0 76,443 Z" fill="#8b4513"/>
<path d="M151.5,443 L171,443 A19.5,19.5 0 0 0 137.12,429.83 Z" fill="#00ffff"/>
<path d="M151.5,443 L137.12,429.83 A19.5,19.5 0 0 0 146.53,461.86 Z" fill="#808080"/>
<path d="M151.5,443 L146.53,461.86 A19.5,19.5 0 0 0 171,443 Z" fill="#8b4513"/>
<path d="M247.5,443 L263,443 A15.5,15.5 0 0 0 239.28,429.86 Z" fill="#00ffff"/>
<path d="M247.5,443 L239.28,429.86 A15.5,15.5 0 0 0 240.9,457.02 Z" fill="#808080"/>
<path d="M247.5,443 L240.9,457.02 A15.5,15.5 0 0 0 263,443 Z" fill="#8b4513"/>
<path d="M343.5,443 L373.5,443 A30,30 0 0 0 332.98,414.9 Z" fill="#00ffff"/>
<path d="M343.5,443 L332.98,414.9 A30,30 0 0 0 331.07,470.3 Z" fill="#808080"/>
<path d="M343.5,443 L331.07,470.3 A30,30 0 0 0 373.5,443 Z" fill="#8b4513"/>
</g>

<g font-family="NanumGothic, 'Liberation Sans', sans-serif" font-size="11.5" fill="#2a2a2a" stroke="#2a2a2a" stroke-width="0.3" lengthAdjust="spacingAndGlyphs">
<text x="119" y="72" textLength="37">Europe</text>
<text x="327" y="64" textLength="49">N,Eurasia</text>
<text x="397" y="125" textLength="31">E,Asia</text>
<text x="207" y="152" textLength="36">M,East</text>
<text x="123" y="205" textLength="30">Africa</text>
<text x="341" y="204" textLength="31">S,Asia</text>
<text x="424" y="287" textLength="58">Australasia</text>
<text x="637" y="261" textLength="72">Aus_S,Pacific</text>
<text x="878" y="274" textLength="54">S,America</text>
<text x="754" y="93" textLength="56">N,America</text>
<text x="39" y="414" textLength="33">Globe</text>
<text x="113" y="415" textLength="76">N,Extratropics</text>
<text x="211" y="419" textLength="73">S,Extratropics</text>
<text x="324" y="401" textLength="38">Tropics</text>
</g>

<g font-family="'DejaVu Sans', 'Liberation Sans', sans-serif" font-size="11.5" lengthAdjust="spacingAndGlyphs">
<g fill="#2323a8">
<text x="127" y="86" textLength="36">35.7%</text>
<text x="337" y="77" textLength="36">43.3%</text>
<text x="401" y="140" textLength="36">36.5%</text>
<text x="218" y="166" textLength="36">31.5%</text>
<text x="130" y="220" textLength="36">32.1%</text>
<text x="354" y="225" textLength="37">29.6%</text>
<text x="451" y="307" textLength="36">29.4%</text>
<text x="671" y="279" textLength="36">31.7%</text>
<text x="899" y="289" textLength="36">31.1%</text>
<text x="773" y="108" textLength="37">36.2%</text>
<text x="47" y="428" textLength="36">34.8%</text>
<text x="140" y="428" textLength="37">38.2%</text>
<text x="237" y="432" textLength="37">33.9%</text>
<text x="342" y="421" textLength="36">30.7%</text>
</g>
<g fill="#141414">
<text x="103" y="103" textLength="36">32.9%</text>
<text x="317" y="105" textLength="36">31.1%</text>
<text x="377" y="158" textLength="36">32.8%</text>
<text x="188" y="181" textLength="36">36.5%</text>
<text x="100" y="237" textLength="36">36.2%</text>
<text x="313" y="241" textLength="36">35.1%</text>
<text x="409" y="323" textLength="36">35.6%</text>
<text x="623" y="306" textLength="37">36.0%</text>
<text x="868" y="305" textLength="36">36.0%</text>
<text x="743" y="132" textLength="36">33.7%</text>
<text x="17" y="449" textLength="36">34.3%</text>
<text x="115" y="450" textLength="37">32.7%</text>
<text x="213" y="446" textLength="36">34.1%</text>
<text x="295" y="446" textLength="37">37.5%</text>
</g>
<g fill="#b22a2a">
<text x="128" y="113.5" textLength="36">31.3%</text>
<text x="347" y="109" textLength="36">25.7%</text>
<text x="404" y="169" textLength="36">30.8%</text>
<text x="217" y="197" textLength="36">32.1%</text>
<text x="130" y="254" textLength="36">31.7%</text>
<text x="351" y="269" textLength="36">35.2%</text>
<text x="447" y="352" textLength="36">35.0%</text>
<text x="671" y="332" textLength="36">32.3%</text>
<text x="898" y="324" textLength="36">33.0%</text>
<text x="776" y="145" textLength="37">30.1%</text>
<text x="48" y="463" textLength="37">30.8%</text>
<text x="145" y="462" textLength="37">29.1%</text>
<text x="237" y="459" textLength="37">32.0%</text>
<text x="341" y="470" textLength="36">31.8%</text>
</g>
</g>

<rect x="14" y="309" width="28" height="9" fill="#00ffff" fill-opacity="0.5"/>
<rect x="14" y="323" width="28" height="9" fill="#808080" fill-opacity="0.5"/>
<rect x="14" y="337" width="28" height="9" fill="#8b4513" fill-opacity="0.5"/>
<g font-family="NanumGothic, 'Liberation Sans', sans-serif" font-size="12.5" lengthAdjust="spacingAndGlyphs">
<text x="47" y="317.5" fill="#1a1aa0" textLength="78">Above Normal</text>
<text x="47" y="331.5" fill="#111" textLength="69">Near Normal</text>
<text x="47" y="345.5" fill="#b22a2a" textLength="77">Below Normal</text>
<text x="14" y="359" fill="#111" textLength="136">Climatology : 1993-2016</text>
</g>

<rect x="1.5" y="368.5" width="397.5" height="126" fill="none" stroke="#555" stroke-width="1"/>

<text x="604" y="385" font-family="NanumGothic, 'Liberation Sans', sans-serif" font-weight="bold" font-size="13" fill="#707070" textLength="246" lengthAdjust="spacingAndGlyphs">Size of Pie Chart: Hindcast HSS Range</text>
<g fill="#808080" fill-opacity="0.5">
<circle cx="502.3" cy="442.5" r="13.3"/>
<circle cx="546.3" cy="442.7" r="18.7"/>
<circle cx="600.7" cy="442.5" r="23.7"/>
<circle cx="666.8" cy="442.5" r="28.8"/>
<circle cx="743.3" cy="442.7" r="33.3"/>
<circle cx="831.8" cy="442.5" r="38.8"/>
<circle cx="930.3" cy="442.8" r="44.3"/>
</g>
<g font-family="NanumGothic, 'Liberation Sans', sans-serif" font-weight="bold" font-size="12.5" fill="#505050" text-anchor="middle">
<text x="502.3" y="447">&lt; 5</text>
<text x="546.3" y="447">10</text>
<text x="600.7" y="447">15</text>
<text x="666.8" y="447">20</text>
<text x="743.3" y="447">25</text>
<text x="831.8" y="447">30</text>
<text x="930.3" y="447">35 ≤</text>
</g>
</svg>
</body></html>
